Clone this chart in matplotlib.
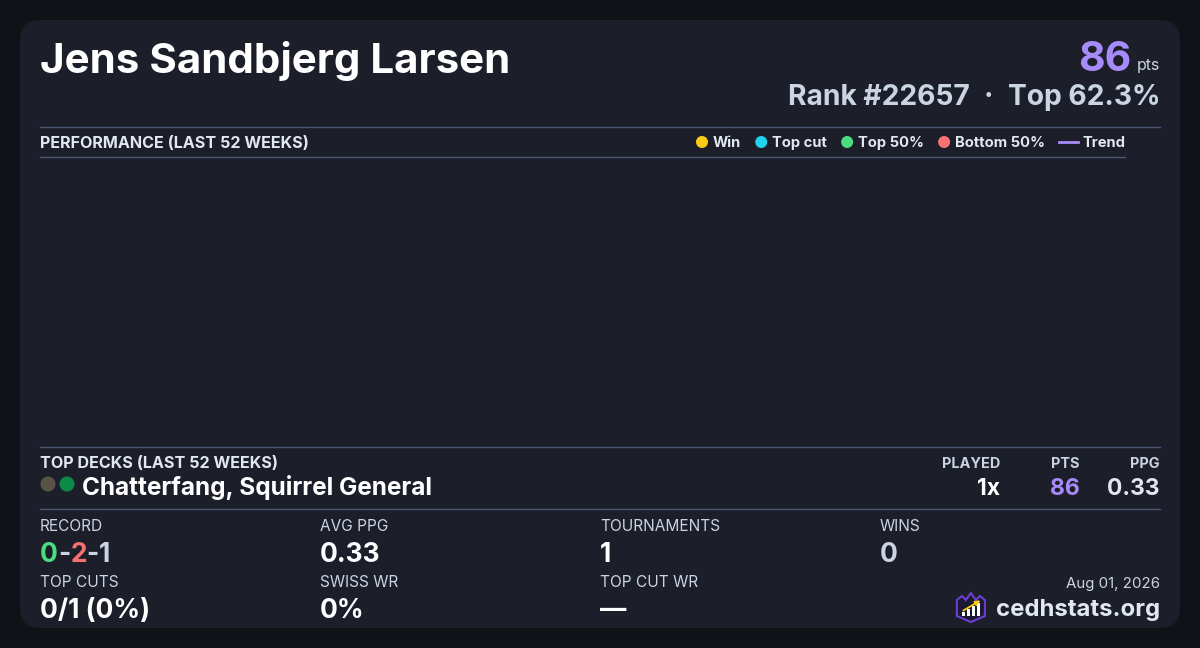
import matplotlib
matplotlib.use('Agg')
import matplotlib.pyplot as plt
from matplotlib.patches import FancyBboxPatch, Circle, Polygon, Rectangle

plt.rcParams['font.family'] = ['Inter', 'DejaVu Sans']

# ---- data ----
player_name = "Jens Sandbjerg Larsen"
points = 86
rank = 22657
top_pct = 62.3
report_date = "Aug 01, 2026"

legend_labels = ["Win", "Top cut", "Top 50%", "Bottom 50%"]
legend_colors = ["#facc15", "#22d3ee", "#4ade80", "#f87171"]
trend_label = "Trend"
trend_color = "#a78bfa"

# performance chart: no events in the last 52 weeks
perf_weeks = []
perf_points = []

deck_name = "Chatterfang, Squirrel General"
deck_colors = ["#5a5246", "#0b8a48"]
deck_played = 1
deck_pts = 86
deck_ppg = 0.33

record = [0, 2, 1]  # wins - losses - draws
record_colors = ["#4ade80", "#f87171", "#cbd5e1"]
stat_labels = ["AVG PPG", "TOURNAMENTS", "WINS", "SWISS WR", "TOP CUT WR"]
stat_values = ["0.33", "1", "0", "0%", "\u2014"]
top_cuts = "0/1 (0%)"

BG = "#111217"
CARD = "#1c1e2a"
LINE = "#4a5670"
WHITE = "#ffffff"
HEAD = "#e2e8f0"
MUTED = "#cbd5e1"
PURPLE = "#a78bfa"

fig = plt.figure(figsize=(12, 6.48), dpi=100, facecolor=BG)
ax = fig.add_axes([0, 0, 1, 1])
ax.set_xlim(0, 1200)
ax.set_ylim(648, 0)
ax.axis('off')
ax.set_facecolor(BG)

card = FancyBboxPatch((20, 20), 1160, 608, boxstyle="round,pad=0,rounding_size=20",
                      fc=CARD, ec='none')
ax.add_patch(card)

fig.canvas.draw()
renderer = fig.canvas.get_renderer()


def width(t):
    return t.get_window_extent(renderer).width


def txt(x, y, s, size, color, weight='normal', ha='left'):
    return ax.text(x, y, s, fontsize=size, color=color, fontweight=weight,
                   ha=ha, va='baseline')


# header
txt(40, 73, player_name, 30.3, WHITE, 'bold')
t = txt(1160, 70, "pts", 11.5, MUTED, ha='right')
txt(1160 - width(t) - 5, 71, str(points), 29.5, PURPLE, 'bold', ha='right')
t = txt(1160, 105, "Top %.1f%%" % top_pct, 20.3, MUTED, 'bold', ha='right')
xr = 1160 - width(t) - 14
t = txt(xr, 105, "\u00b7", 20.3, MUTED, 'bold', ha='right')
xr = xr - width(t) - 14
txt(xr, 105, "Rank #%d" % rank, 20.3, MUTED, 'bold', ha='right')

# performance section
ax.plot([40, 1160], [126.5, 126.5], color=LINE, lw=1)
ax.plot([40, 1125], [156.5, 156.5], color=LINE, lw=1)
txt(40, 148, "PERFORMANCE (LAST 52 WEEKS)", 11.6, HEAD, 'bold')

x = 696
for lab, col in zip(legend_labels, legend_colors):
    ax.add_patch(Circle((x + 6, 142), 6, fc=col, ec='none'))
    t = txt(x + 17, 147, lab, 10.6, HEAD, 'bold')
    x = x + 17 + width(t) + 14
ax.plot([x, x + 19], [142, 142], color=trend_color, lw=2)
txt(x + 23, 147, trend_label, 10.6, HEAD, 'bold')

if perf_weeks:
    ax.plot(perf_weeks, perf_points, color=trend_color)

# top decks
ax.plot([40, 1160], [446.5, 446.5], color=LINE, lw=1)
ax.plot([40, 1160], [508.5, 508.5], color=LINE, lw=1)
txt(40, 468, "TOP DECKS (LAST 52 WEEKS)", 11.6, HEAD, 'bold')
for i, c in enumerate(deck_colors):
    ax.add_patch(Circle((48 + i * 19, 484), 7.5, fc=c, ec='none'))
txt(82, 495, deck_name, 17.5, WHITE, 'bold')

deck_cols = [("PLAYED", "%dx" % deck_played, WHITE, 1000),
             ("PTS", str(deck_pts), PURPLE, 1080),
             ("PPG", "%.2f" % deck_ppg, HEAD, 1160)]
for head, val, col, xr in deck_cols:
    txt(xr, 468, head, 10.4, MUTED, 'bold', ha='right')
    txt(xr, 495, val, 16.5, col, 'bold', ha='right')

# stats grid
txt(40, 531, "RECORD", 11.1, MUTED)
x = 40
parts = []
for i, (v, c) in enumerate(zip(record, record_colors)):
    parts.append((str(v), c))
    if i < len(record) - 1:
        parts.append(("-", MUTED))
for s, c in parts:
    t = txt(x, 562, s, 19, c, 'bold')
    x += width(t)

grid_pos = [(320, 531), (600, 531), (880, 531), (320, 587), (600, 587)]
for (gx, gy), lab, val in zip(grid_pos, stat_labels, stat_values):
    txt(gx, gy, lab, 11.1, MUTED)
    vcol = MUTED if lab == "WINS" else WHITE
    txt(gx, gy + 31, val, 19, vcol, 'bold')

txt(40, 587, "TOP CUTS", 11.1, MUTED)
txt(40, 618, top_cuts, 19, WHITE, 'bold')

# footer
txt(1160, 588, report_date, 10.8, MUTED, ha='right')
t = txt(1160, 616, "cedhstats.org", 17.2, HEAD, 'bold', ha='right')
lx = 1160 - width(t) - 11 - 28
shield = Polygon([(lx, 600), (lx + 5, 596), (lx + 9, 600), (lx + 14, 593), (lx + 19, 600),
                  (lx + 23, 596), (lx + 28, 600), (lx + 28, 616), (lx + 14, 622), (lx, 616)],
                 closed=True, fc="#1b1833", ec="#6d3fd0", lw=1.5)
ax.add_patch(shield)
for i, h in enumerate([4, 7, 10, 13]):
    ax.add_patch(Rectangle((lx + 5 + i * 5, 616 - h), 3, h, fc=WHITE, ec='none'))
ax.annotate("", xy=(lx + 26, 599), xytext=(lx + 4, 612),
            arrowprops=dict(arrowstyle="-|>", color="#facc15", lw=1.3, mutation_scale=7))

fig.savefig("out.png", dpi=100, facecolor=BG)
